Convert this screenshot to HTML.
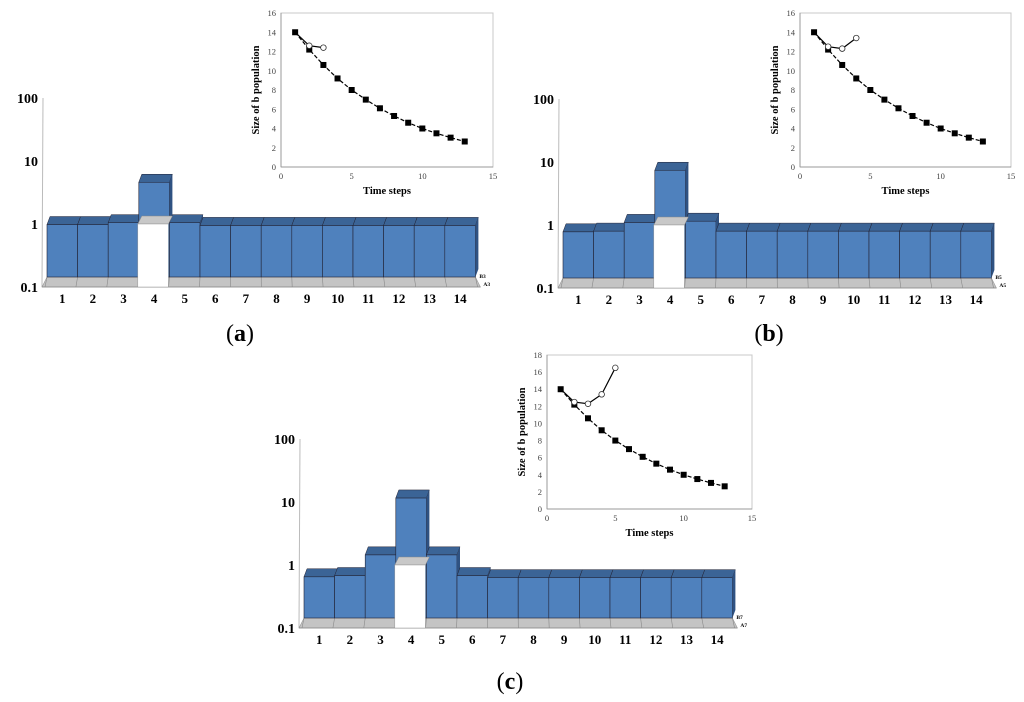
<!DOCTYPE html>
<html><head><meta charset="utf-8"><style>
body{margin:0;background:#fff}
svg{display:block;font-family:"Liberation Serif",serif}
</style></head><body>
<svg id="s" width="1024" height="702" viewBox="0 0 1024 702"></svg>
<script>
const categories=[1,2,3,4,5,6,7,8,9,10,11,12,13,14];
const barsA=[0.98,0.98,1.05,4.6,1.05,0.95,0.95,0.95,0.95,0.95,0.95,0.95,0.95,0.95];
const barsB=[0.78,0.8,1.1,7.4,1.15,0.8,0.8,0.8,0.8,0.8,0.8,0.8,0.8,0.8];
const barsC=[0.65,0.68,1.45,11.6,1.45,0.68,0.63,0.63,0.63,0.63,0.63,0.63,0.63,0.63];
const logTicks=["100","10","1","0.1"];
const timeX=[1,2,3,4,5,6,7,8,9,10,11,12,13];
const squares=[14,12.2,10.6,9.2,8.0,7.0,6.1,5.3,4.6,4.0,3.5,3.05,2.65];
const circlesA=[14,12.6,12.4];
const circlesB=[14,12.5,12.3,13.4];
const circlesC=[14,12.5,12.3,13.4,16.5];
const xTicks=[0,5,10,15];
const yTicks16=[0,2,4,6,8,10,12,14,16];
const yTicks18=[0,2,4,6,8,10,12,14,16,18];

const S=document.getElementById('s');const NS='http://www.w3.org/2000/svg';
function mk(t,a,p){const e=document.createElementNS(NS,t);for(const k in a)e.setAttribute(k,a[k]);(p||S).appendChild(e);return e;}
function txt(x,y,s,a,p){const e=mk('text',Object.assign({x:x,y:y},a),p);e.textContent=s;return e;}

function barPanel(name,vals,x0,floorY,lab){
  const g=mk('g',{});
  
  
  const bw=30.6,dec=63,n=vals.length,dx=3,dy=8,back=10;
  const yv=v=>floorY-(Math.log10(v)+1)*dec;
  const ax=mk('line',{x1:x0-5,y1:floorY,x2:x0-4,y2:yv(100),stroke:'#bbb','stroke-width':1},g);
  
  logTicks.forEach((t,i)=>{const e=txt(x0-9,floorY-(3-i)*dec+5,t,{'text-anchor':'end','font-size':14,'font-weight':'bold'},g);
    });
  const W=n*bw;
  const fl=mk('polygon',{points:`${x0-5},${floorY} ${x0+W+5},${floorY} ${x0+W},${floorY-back} ${x0},${floorY-back}`,fill:'#c4c4c4',stroke:'#999','stroke-width':0.6},g);
  
  for(let i=0;i<=n;i++)mk('line',{x1:x0+i*bw,y1:floorY-back,x2:x0+i*bw-2+i*0.3,y2:floorY,stroke:'#888','stroke-width':0.6},g);
  mk('line',{x1:x0-5,y1:floorY,x2:x0+W+5,y2:floorY,stroke:'#888','stroke-width':0.8},g);
  vals.forEach((v,i)=>{
    const x=x0+i*bw,t=yv(v),b=floorY-back;
    const r=mk('rect',{x:x,y:t,width:bw,height:b-t,fill:'#4f81bd',stroke:'#223',"stroke-width":0.6},g);
    
    mk('polygon',{points:`${x},${t} ${x+bw},${t} ${x+bw+dx},${t-dy} ${x+dx},${t-dy}`,fill:'#3b6496',stroke:'#223','stroke-width':0.5},g);
    mk('polygon',{points:`${x+bw},${t} ${x+bw+dx},${t-dy} ${x+bw+dx},${b-dy} ${x+bw},${b}`,fill:'#2f5282'},g);
  });
  const i=3,x=x0+i*bw,t=yv(1);
  mk('polygon',{points:`${x-1},${t} ${x+bw-1},${t} ${x+bw+dx},${t-dy} ${x+dx},${t-dy}`,fill:'#c8c8c8',stroke:'#888','stroke-width':0.5},g);
  const w=mk('rect',{x:x-1,y:t,width:bw,height:floorY-t,fill:'#fff',stroke:'#999','stroke-width':0.5},g);
  
  categories.forEach((c,k)=>{const e=txt(x0+(k+0.5)*bw,floorY+16,String(c),{'text-anchor':'middle','font-size':13,'font-weight':'bold'},g);
    });
  const l1=txt(x0+W+4,floorY-9,'B'+lab,{'font-size':5.5,'font-weight':'bold'},g);
  
  const l2=txt(x0+W+8,floorY-1,'A'+lab,{'font-size':5.5,'font-weight':'bold'},g);
  
}

function inset(name,L,R,T,B,yMax,yT,circ){
  const g=mk('g',{});
  
  
  const sx=v=>L+(R-L)*v/15,sy=v=>B-(B-T)*v/yMax;
  mk('rect',{x:L,y:T,width:R-L,height:B-T,fill:'none',stroke:'#c8c8c8','stroke-width':1},g);
  mk('line',{x1:L,y1:T,x2:L,y2:B,stroke:'#999'},g);mk('line',{x1:L,y1:B,x2:R,y2:B,stroke:'#999'},g);
  yT.forEach(v=>{const e=txt(L-5,sy(v)+3,String(v),{'text-anchor':'end','font-size':8.5,fill:'#444'},g);
    });
  xTicks.forEach(v=>{const e=txt(sx(v),B+12,String(v),{'text-anchor':'middle','font-size':8.5,fill:'#444'},g);
    });
  const xt=txt((L+R)/2,B+27,'Time steps',{'text-anchor':'middle','font-size':10.5,'font-weight':'bold'},g);
  
  const cy=(T+B)/2,cx=L-22;
  const yt=txt(cx,cy,'Size of b population',{'text-anchor':'middle','font-size':10.5,'font-weight':'bold',transform:`rotate(-90 ${cx} ${cy})`},g);
  
  const sq=mk('polyline',{points:squares.map((v,i)=>sx(timeX[i])+','+sy(v)).join(' '),fill:'none',stroke:'#000','stroke-width':1.2,'stroke-dasharray':'4,2'},g);
  
  squares.forEach((v,i)=>{const r=mk('rect',{x:sx(timeX[i])-3,y:sy(v)-3,width:6,height:6,fill:'#000'},g);
    });
  const cl=mk('polyline',{points:circ.map((v,i)=>sx(timeX[i])+','+sy(v)).join(' '),fill:'none',stroke:'#000','stroke-width':1.2},g);
  
  circ.forEach((v,i)=>{if(i==0)return;const c=mk('circle',{cx:sx(timeX[i]),cy:sy(v),r:2.8,fill:'#fff',stroke:'#333','stroke-width':0.8},g);
    });
}

barPanel('panel-a',barsA,47,287,'3');
barPanel('panel-b',barsB,563,288,'5');
barPanel('panel-c',barsC,304,628,'7');
inset('panel-a',281,493,13,167,16,yTicks16,circlesA);
inset('panel-b',800,1011,13,167,16,yTicks16,circlesB);
inset('panel-c',547,752,355,509,18,yTicks18,circlesC);
[['(a)',240,341],['(b)',769,341],['(c)',510,689]].forEach(p=>{
  const e=txt(p[1],p[2],'',{'text-anchor':'middle','font-size':24},S);
  const a=mk('tspan',{},e);a.textContent='(';const b=mk('tspan',{'font-weight':'bold'},e);b.textContent=p[0][1];const c=mk('tspan',{},e);c.textContent=')';
  
});
</script>
</body></html>
